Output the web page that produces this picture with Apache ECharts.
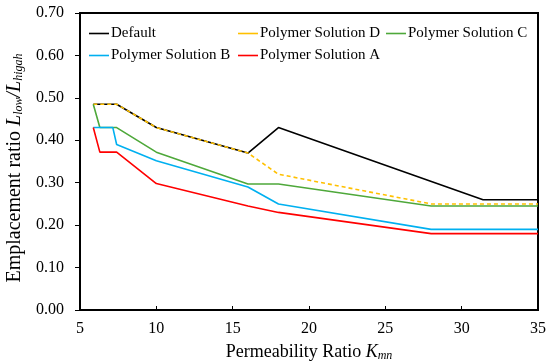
<!DOCTYPE html>
<html><head><meta charset="utf-8">
<script src="https://cdn.jsdelivr.net/npm/echarts@6/dist/echarts.min.js"></script>
<style>html,body{margin:0;padding:0;background:#fff}#c{width:550px;height:364px}</style>
</head><body><div id="c"></div>
<script>
var seriesNames = ['Default', 'Polymer Solution D', 'Polymer Solution C', 'Polymer Solution B', 'Polymer Solution A'];
var defaultX = [5.87, 7.4, 10, 16, 18, 31.4, 35];
var defaultY = [0.485, 0.485, 0.43, 0.37, 0.43, 0.26, 0.26];
var dX = [5.87, 7.4, 10, 16, 18, 28, 35];
var dY = [0.485, 0.485, 0.43, 0.37, 0.32, 0.25, 0.25];
var cX = [5.87, 6.3, 7.4, 10, 16, 18, 28, 35];
var cY = [0.485, 0.43, 0.43, 0.372, 0.297, 0.297, 0.245, 0.245];
var bX = [5.87, 7.15, 7.4, 10, 16, 18, 28, 35];
var bY = [0.43, 0.43, 0.39, 0.352, 0.29, 0.25, 0.19, 0.19];
var aX = [5.87, 6.3, 7.4, 10, 16, 18, 28, 35];
var aY = [0.43, 0.372, 0.372, 0.298, 0.245, 0.23, 0.18, 0.18];
var xTicks = [5, 10, 15, 20, 25, 30, 35];
var yTicks = [0.00, 0.10, 0.20, 0.30, 0.40, 0.50, 0.60, 0.70];

var FONT = '"Liberation Serif", "Times New Roman", serif';
function pairs(xs, ys) { return xs.map(function (x, i) { return [x, ys[i]]; }); }
var colors = ['#000000', '#FFC000', '#4EA83A', '#00B0F0', '#FF0000'];
var xsAll = [defaultX, dX, cX, bX, aX], ysAll = [defaultY, dY, cY, bY, aY];
var series = seriesNames.map(function (n, i) {
  return {
    name: n, type: 'line', data: pairs(xsAll[i], ysAll[i]), symbol: 'none',
    lineStyle: { color: colors[i], width: 1.6, type: i === 1 ? [4, 3] : 'solid' },
    itemStyle: { color: colors[i] }, z: 2 + i, animation: false
  };
});
var legendPos = [[89, 26], [238, 26], [386, 26], [89, 48], [238, 48]];
var legends = seriesNames.map(function (n, i) {
  return {
    data: [{ name: n, icon: 'path://M0,0L20,0L20,1.6L0,1.6Z' }], left: legendPos[i][0], top: legendPos[i][1],
    itemWidth: 20, itemHeight: 2, itemGap: 0, padding: 0,
    textStyle: { fontFamily: FONT, fontSize: 15, color: '#000', padding: [0, 0, 0, -3] },
    selectedMode: false
  };
});
var chart = echarts.init(document.getElementById('c'), null, { renderer: 'canvas' });
chart.setOption({
  animation: false,
  grid: { left: 80, right: 12, top: 13, bottom: 54, containLabel: false, outerBoundsMode: 'none', show: true, borderColor: '#000', borderWidth: 2, backgroundColor: 'transparent' },
  legend: legends,
  xAxis: {
    type: 'value', min: xTicks[0], max: xTicks[xTicks.length - 1], interval: 5,
    axisLine: { lineStyle: { color: '#000', width: 2 } },
    axisTick: { inside: true, length: 4, lineStyle: { color: '#000' } },
    splitLine: { show: false },
    axisLabel: { fontFamily: FONT, fontSize: 16, color: '#000', margin: 11 },
    name: '{n|Permeability Ratio }{i|K}{s|mn}', nameLocation: 'middle', nameGap: 30,
    nameTextStyle: {
      rich: {
        n: { fontFamily: FONT, fontSize: 18, color: '#000', lineHeight: 22 },
        i: { fontFamily: FONT, fontSize: 18, fontStyle: 'italic', color: '#000', lineHeight: 22 },
        s: { fontFamily: FONT, fontSize: 12, fontStyle: 'italic', color: '#000', padding: [8, 0, 0, 0], lineHeight: 22 }
      }
    }
  },
  yAxis: {
    type: 'value', min: 0, max: 0.7, interval: 0.1,
    axisLine: { lineStyle: { color: '#000', width: 2 } },
    axisTick: { inside: false, length: 5, lineStyle: { color: '#000' } },
    splitLine: { show: false },
    axisLabel: { fontFamily: FONT, fontSize: 16, color: '#000', margin: 16, formatter: function (v) { return v.toFixed(2); } },
    name: '{n|Emplacement ratio }{i|L}{s|low}{i|/L}{s|higah}', nameLocation: 'middle', nameGap: 52, nameRotate: 90,
    nameTextStyle: {
      padding: [0, 13, 0, 0],
      rich: {
        n: { fontFamily: FONT, fontSize: 20, color: '#000', lineHeight: 24 },
        i: { fontFamily: FONT, fontSize: 20, fontStyle: 'italic', color: '#000', lineHeight: 24 },
        s: { fontFamily: FONT, fontSize: 12, fontStyle: 'italic', color: '#000', padding: [9, 0, 0, 0], lineHeight: 24 }
      }
    }
  },
  series: series
});
</script></body></html>
